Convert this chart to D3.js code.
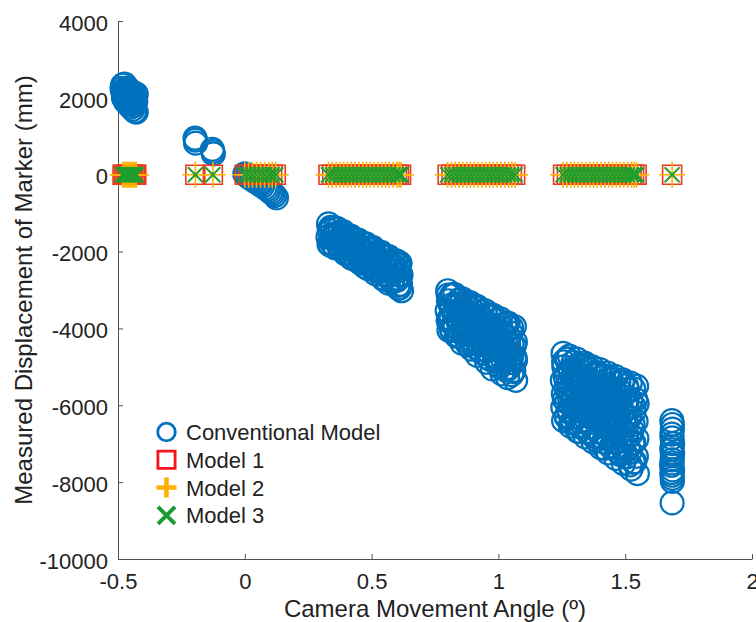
<!DOCTYPE html>
<html>
<head>
<meta charset="utf-8">
<script src="https://cdn.jsdelivr.net/npm/d3@7"></script>
<style>
  html, body { margin: 0; padding: 0; background: #fff; }
  svg { display: block; font-family: "Liberation Sans", Arial, Helvetica, sans-serif; }
</style>
</head>
<body>
<svg id="chart" width="756" height="622"></svg>
<script>
// Camera movement angle (deg) for every recorded frame
const angle = [
  // near -0.45 (40)
  -0.482, -0.478, -0.474, -0.470, -0.466, -0.462, -0.458, -0.454, -0.450, -0.446,
  -0.442, -0.438, -0.434, -0.430, -0.480, -0.468, -0.456, -0.444, -0.428, -0.428,
  -0.476, -0.472, -0.464, -0.460, -0.452, -0.448, -0.440, -0.436, -0.432, -0.484,
  -0.481, -0.477, -0.473, -0.469, -0.465, -0.461, -0.457, -0.449, -0.445, -0.437,
  // near -0.15 (6)
  -0.196, -0.194, -0.195, -0.128, -0.124, -0.126,
  // near 0.05 (17)
  0.000, 0.005, 0.012, 0.020, 0.028, 0.035, 0.045, 0.055, 0.062, 0.070,
  0.080, 0.088, 0.095, 0.103, 0.110, 0.118, 0.125,
  // near 0.47 (114)
  0.330, 0.333, 0.328, 0.332, 0.358, 0.362, 0.360, 0.356, 0.388, 0.392, 0.390, 0.394,
  0.418, 0.422, 0.425, 0.420, 0.448, 0.452, 0.450, 0.455, 0.478, 0.482, 0.480, 0.485,
  0.508, 0.512, 0.510, 0.514, 0.538, 0.542, 0.540, 0.544, 0.568, 0.572, 0.570, 0.566,
  0.598, 0.602, 0.600, 0.604, 0.612, 0.616, 0.614, 0.618,
  0.345, 0.347, 0.343, 0.375, 0.377, 0.373, 0.405, 0.407, 0.403, 0.435, 0.437, 0.433,
  0.465, 0.467, 0.463, 0.495, 0.497, 0.493, 0.525, 0.527, 0.523, 0.555, 0.557, 0.553,
  0.585, 0.587, 0.583, 0.607, 0.609, 0.605,
  0.338, 0.341, 0.350, 0.353, 0.366, 0.369, 0.381, 0.384, 0.397, 0.400,
  0.411, 0.414, 0.427, 0.430, 0.441, 0.444, 0.458, 0.461, 0.471, 0.474,
  0.488, 0.491, 0.501, 0.504, 0.517, 0.520, 0.531, 0.534, 0.547, 0.550,
  0.561, 0.564, 0.577, 0.580, 0.591, 0.594, 0.605, 0.610, 0.612, 0.336,
  // near 0.93 (146)
  0.800, 0.803, 0.798, 0.802, 0.805, 0.828, 0.832, 0.830, 0.826, 0.834,
  0.858, 0.862, 0.860, 0.864, 0.856, 0.888, 0.892, 0.890, 0.886, 0.894,
  0.918, 0.922, 0.920, 0.924, 0.916, 0.948, 0.952, 0.950, 0.946, 0.954,
  0.978, 0.982, 0.980, 0.984, 0.976, 1.008, 1.012, 1.010, 1.006, 1.014,
  1.038, 1.042, 1.040, 1.044, 1.036, 1.063, 1.067, 1.065, 1.061, 1.068,
  0.815, 0.817, 0.813, 0.816, 0.845, 0.847, 0.843, 0.846, 0.875, 0.877, 0.873, 0.876,
  0.905, 0.907, 0.903, 0.906, 0.935, 0.937, 0.933, 0.936, 0.965, 0.967, 0.963, 0.966,
  0.995, 0.997, 0.993, 0.996, 1.025, 1.027, 1.023, 1.026, 1.052, 1.054, 1.050, 1.053,
  0.802, 0.8065, 0.811, 0.8155, 0.820, 0.8245, 0.829, 0.8335, 0.838, 0.8425,
  0.847, 0.8515, 0.856, 0.8605, 0.865, 0.8695, 0.874, 0.8785, 0.883, 0.8875,
  0.892, 0.8965, 0.901, 0.9055, 0.910, 0.9145, 0.919, 0.9235, 0.928, 0.9325,
  0.937, 0.9415, 0.946, 0.9505, 0.955, 0.9595, 0.964, 0.9685, 0.973, 0.9775,
  0.982, 0.9865, 0.991, 0.9955, 1.000, 1.0045, 1.009, 1.0135, 1.018, 1.0225,
  1.027, 1.0315, 1.036, 1.0405, 1.045, 1.0495, 1.054, 1.0585, 1.063, 1.0675,
  // near 1.4 (196)
  1.255, 1.258, 1.252, 1.256, 1.254, 1.257,
  1.280, 1.283, 1.278, 1.281, 1.279, 1.284,
  1.310, 1.312, 1.308, 1.311, 1.309, 1.313,
  1.340, 1.342, 1.338, 1.341, 1.339, 1.343,
  1.370, 1.372, 1.368, 1.371, 1.369, 1.373,
  1.400, 1.402, 1.398, 1.401, 1.399, 1.403,
  1.430, 1.432, 1.428, 1.431, 1.429, 1.433,
  1.460, 1.462, 1.458, 1.461, 1.459, 1.463,
  1.490, 1.492, 1.488, 1.491, 1.489, 1.493,
  1.520, 1.522, 1.518, 1.521, 1.519, 1.523,
  1.545, 1.547, 1.543, 1.546, 1.544, 1.548,
  1.268, 1.270, 1.266, 1.269, 1.267,
  1.295, 1.297, 1.293, 1.296, 1.294,
  1.325, 1.327, 1.323, 1.326, 1.324,
  1.355, 1.357, 1.353, 1.356, 1.354,
  1.385, 1.387, 1.383, 1.386, 1.384,
  1.415, 1.417, 1.413, 1.416, 1.414,
  1.445, 1.447, 1.443, 1.446, 1.444,
  1.475, 1.477, 1.473, 1.476, 1.474,
  1.505, 1.507, 1.503, 1.506, 1.504,
  1.533, 1.535, 1.531, 1.534, 1.532,
  1.2570, 1.2606, 1.2642, 1.2678, 1.2714, 1.2750, 1.2786, 1.2822, 1.2858, 1.2894,
  1.2930, 1.2966, 1.3002, 1.3038, 1.3074, 1.3110, 1.3146, 1.3182, 1.3218, 1.3254,
  1.3290, 1.3326, 1.3362, 1.3398, 1.3434, 1.3470, 1.3506, 1.3542, 1.3578, 1.3614,
  1.3650, 1.3686, 1.3722, 1.3758, 1.3794, 1.3830, 1.3866, 1.3902, 1.3938, 1.3974,
  1.4010, 1.4046, 1.4082, 1.4118, 1.4154, 1.4190, 1.4226, 1.4262, 1.4298, 1.4334,
  1.4370, 1.4406, 1.4442, 1.4478, 1.4514, 1.4550, 1.4586, 1.4622, 1.4658, 1.4694,
  1.4730, 1.4766, 1.4802, 1.4838, 1.4874, 1.4910, 1.4946, 1.4982, 1.5018, 1.5054,
  1.5090, 1.5126, 1.5162, 1.5198, 1.5234, 1.5270, 1.5306, 1.5342, 1.5378, 1.5414,
  // near 1.68 (19)
  1.684, 1.686, 1.685, 1.687, 1.684, 1.686, 1.685, 1.683, 1.687, 1.685, 1.686, 1.685,
  1.686, 1.684, 1.685, 1.687, 1.685, 1.684, 1.686
];

// Measured marker displacement (mm), conventional model, one per frame
const conventional = [
  2330, 2010, 2360, 1900, 2250, 1980, 1820, 2200, 1760, 2050,
  1700, 2130, 1650, 1900, 2150, 2080, 1950, 1850, 2100, 1630,
  2200, 2100, 2120, 2240, 1900, 2150, 1950, 1800, 2000, 2250,
  2180, 1990, 2200, 2040, 1880, 2200, 2020, 1890, 2060, 1900,
  950, 820, 900, 660, 540, 600,
  20, -10, -40, -90, -110, -150, -190, -230, -260, -300,
  -340, -380, -420, -460, -500, -540, -600,
  -1280, -1450, -1620, -1800, -1380, -1560, -1720, -1900, -1480, -1660, -1850, -2040,
  -1600, -1780, -1980, -2170, -1700, -1900, -2100, -2300, -1800, -2020, -2250, -2440,
  -1920, -2150, -2380, -2570, -2020, -2270, -2500, -2690, -2130, -2380, -2620, -2820,
  -2240, -2500, -2750, -2950, -2300, -2600, -2850, -3020,
  -1400, -1600, -1780, -1500, -1700, -1900, -1600, -1820, -2020, -1700, -1920, -2150,
  -1800, -2030, -2270, -1920, -2150, -2380, -2020, -2270, -2500, -2130, -2380, -2620,
  -2250, -2500, -2750, -2350, -2620, -2880,
  -1370, -1650, -1830, -1540, -1410, -1830, -1730, -1580, -2060, -1860,
  -1730, -2050, -1660, -1950, -2230, -1840, -2140, -1770, -2030, -2400,
  -1940, -2310, -2180, -1890, -2500, -2170, -2400, -2070, -2720, -2320,
  -2580, -2240, -2510, -2800, -2400, -2250, -2700, -2950, -2590, -1830,
  -3020, -3280, -3540, -3800, -4050, -3120, -3400, -3680, -3950, -4200,
  -3230, -3520, -3810, -4100, -4380, -3330, -3640, -3950, -4260, -4540,
  -3440, -3760, -4090, -4410, -4700, -3540, -3880, -4220, -4560, -4880,
  -3650, -4000, -4360, -4710, -5050, -3750, -4120, -4490, -4860, -5180,
  -3860, -4240, -4630, -5010, -5280, -3950, -4350, -4750, -5100, -5350,
  -3150, -3450, -3750, -4050, -3250, -3560, -3870, -4200, -3350, -3680, -4000, -4330,
  -3450, -3800, -4140, -4480, -3560, -3920, -4280, -4640, -3670, -4050, -4420, -4800,
  -3780, -4170, -4560, -4950, -3890, -4300, -4700, -5080, -3980, -4400, -4800, -5200,
  -3130, -3730, -3400, -4010, -3120, -3640, -3950, -3370, -4180, -3600,
  -3830, -3370, -4130, -3550, -4050, -3340, -3790, -4420, -3610, -4060,
  -3490, -4370, -3810, -4030, -3410, -4320, -3790, -4560, -4050, -3700,
  -4340, -3940, -4530, -3650, -4280, -3880, -4780, -4160, -4520, -3700,
  -4330, -4770, -3950, -4520, -4140, -5010, -3930, -4400, -4830, -4160,
  -4700, -3870, -5070, -4400, -4890, -4120, -4690, -5120, -4450, -4820,
  -4650, -5000, -5350, -5700, -6050, -6400,
  -4720, -5080, -5450, -5810, -6180, -6540,
  -4800, -5180, -5560, -5930, -6310, -6680,
  -4900, -5280, -5670, -6050, -6440, -6820,
  -5000, -5390, -5780, -6170, -6560, -6950,
  -5070, -5480, -5890, -6290, -6700, -7100,
  -5160, -5580, -6000, -6410, -6830, -7240,
  -5250, -5680, -6100, -6530, -6960, -7380,
  -5340, -5780, -6220, -6650, -7090, -7520,
  -5420, -5870, -6320, -6770, -7210, -7660,
  -5500, -5960, -6420, -6870, -7330, -7780,
  -4800, -5180, -5550, -5920, -6300,
  -4880, -5270, -5650, -6040, -6430,
  -4960, -5360, -5760, -6160, -6560,
  -5050, -5450, -5860, -6270, -6680,
  -5140, -5560, -5970, -6390, -6820,
  -5230, -5650, -6080, -6500, -6950,
  -5320, -5750, -6190, -6620, -7080,
  -5400, -5850, -6290, -6740, -7220,
  -5490, -5940, -6400, -6860, -7350,
  -5570, -6030, -6500, -6970, -7480,
  -4870, -5850, -5280, -6270, -4790, -5620, -6120, -5140, -6460, -5490,
  -5850, -5080, -6300, -5350, -6130, -4960, -5680, -6680, -5350, -6060,
  -5130, -6520, -5610, -5950, -4950, -6380, -5530, -6720, -5900, -5330,
  -6320, -5690, -6590, -5200, -6160, -5520, -6910, -5920, -6480, -5190,
  -6150, -6810, -5530, -6390, -5790, -7120, -5450, -6140, -6800, -5750,
  -6560, -5280, -7090, -6060, -6790, -5620, -6460, -7090, -6060, -6610,
  -5570, -6550, -7280, -6080, -6900, -5390, -6380, -7210, -5950, -6730,
  -5590, -7120, -6310, -7550, -5930, -6640, -6990, -6170, -7470, -5850,
  -6400, -6620, -6850, -7000, -7150, -7300, -7420, -7560, -7680, -7820, -7980, -8540,
  -6500, -6750, -7080, -7250, -7500, -7750, -7900
];

// Frames at which the compensated models were evaluated (deg)
const modelAngle = [
  -0.482, -0.476, -0.470, -0.464, -0.458, -0.452, -0.446, -0.440, -0.434, -0.428,
  -0.195, -0.126,
  0.000, 0.015, 0.030, 0.046, 0.062, 0.078, 0.095, 0.108, 0.122,
  0.330, 0.345, 0.360, 0.375, 0.390, 0.405, 0.420, 0.435, 0.450, 0.465, 0.480,
  0.495, 0.510, 0.525, 0.540, 0.555, 0.570, 0.585, 0.600, 0.608, 0.616,
  0.800, 0.815, 0.830, 0.845, 0.860, 0.875, 0.890, 0.905, 0.920, 0.935,
  0.950, 0.965, 0.980, 0.995, 1.010, 1.025, 1.040, 1.053, 1.066,
  1.255, 1.270, 1.285, 1.300, 1.315, 1.330, 1.345, 1.360, 1.375, 1.390, 1.405,
  1.420, 1.435, 1.450, 1.465, 1.480, 1.495, 1.510, 1.525, 1.535, 1.545,
  1.685
];
// Residual displacement (mm) of each compensated model at those frames
const model1 = [
  0, 0, 0, 0, 0, 0, 0, 0, 0, 0,
  0, 0,
  0, 0, 0, 0, 0, 0, 0, 0, 0,
  0, 0, 0, 0, 0, 0, 0, 0, 0, 0, 0,
  0, 0, 0, 0, 0, 0, 0, 0, 0, 0,
  0, 0, 0, 0, 0, 0, 0, 0, 0, 0,
  0, 0, 0, 0, 0, 0, 0, 0, 0,
  0, 0, 0, 0, 0, 0, 0, 0, 0, 0, 0,
  0, 0, 0, 0, 0, 0, 0, 0, 0, 0,
  0
];
const model2 = [
  0, 0, 0, 0, 0, 0, 0, 0, 0, 0,
  0, 0,
  0, 0, 0, 0, 0, 0, 0, 0, 0,
  0, 0, 0, 0, 0, 0, 0, 0, 0, 0, 0,
  0, 0, 0, 0, 0, 0, 0, 0, 0, 0,
  0, 0, 0, 0, 0, 0, 0, 0, 0, 0,
  0, 0, 0, 0, 0, 0, 0, 0, 0,
  0, 0, 0, 0, 0, 0, 0, 0, 0, 0, 0,
  0, 0, 0, 0, 0, 0, 0, 0, 0, 0,
  0
];
const model3 = [
  0, 0, 0, 0, 0, 0, 0, 0, 0, 0,
  0, 0,
  0, 0, 0, 0, 0, 0, 0, 0, 0,
  0, 0, 0, 0, 0, 0, 0, 0, 0, 0, 0,
  0, 0, 0, 0, 0, 0, 0, 0, 0, 0,
  0, 0, 0, 0, 0, 0, 0, 0, 0, 0,
  0, 0, 0, 0, 0, 0, 0, 0, 0,
  0, 0, 0, 0, 0, 0, 0, 0, 0, 0, 0,
  0, 0, 0, 0, 0, 0, 0, 0, 0, 0,
  0
];

const seriesNames = ["Conventional Model", "Model 1", "Model 2", "Model 3"];
const xTicks = [-0.5, 0, 0.5, 1, 1.5, 2];
const yTicks = [4000, 2000, 0, -2000, -4000, -6000, -8000, -10000];

const colors = {
  circle: "#0072BD",
  square: "#EC3A1C",
  plus: "#FFB000",
  cross: "#1F9E2E",
  axis: "#505050",
  text: "#222222"
};

const svg = d3.select("#chart");
const margin = { left: 118, right: 4, top: 21, bottom: 63 };
const W = 756, H = 622;

const x = d3.scaleLinear().domain([-0.5, 2]).range([margin.left, W - margin.right]);
const y = d3.scaleLinear().domain([-10000, 4000]).range([H - margin.bottom, margin.top]);

const tickFont = 22;
const titleFont = 24;
const legendFont = 22;

// axes (ticks point inward, no box)
const xAxis = d3.axisBottom(x).tickValues(xTicks).tickFormat(d => String(d))
  .tickSizeInner(-5).tickSizeOuter(0).tickPadding(14);
const yAxis = d3.axisLeft(y).tickValues(yTicks).tickFormat(d => String(d))
  .tickSizeInner(-5).tickSizeOuter(0).tickPadding(10);

const gx = svg.append("g").attr("transform", `translate(0,${y(-10000)})`).call(xAxis);
const gy = svg.append("g").attr("transform", `translate(${x(-0.5)},0)`).call(yAxis);
[gx, gy].forEach(g => {
  g.select(".domain").attr("stroke", colors.axis).attr("stroke-width", 1);
  g.selectAll(".tick line").attr("stroke", colors.axis).attr("stroke-width", 1);
  g.selectAll(".tick text").attr("fill", colors.text)
    .style("font-size", tickFont + "px").style("font-family", "'Liberation Sans', Arial, sans-serif");
});
gy.selectAll(".tick text").attr("dy", "0.42em");

// axis titles
svg.append("text")
  .attr("x", (x(-0.5) + x(2)) / 2).attr("y", 617)
  .attr("text-anchor", "middle").attr("fill", colors.text)
  .style("font-size", titleFont + "px")
  .text("Camera Movement Angle (º)");
svg.append("text")
  .attr("transform", `translate(32,${(y(4000) + y(-10000)) / 2}) rotate(-90)`)
  .attr("text-anchor", "middle").attr("fill", colors.text)
  .style("font-size", titleFont + "px")
  .text("Measured Displacement of Marker (mm)");

// marker shapes
const squarePath = s => `M${-s},${-s}H${s}V${s}H${-s}Z`;
const plusPath = s => `M${-s},0H${s}M0,${-s}V${s}`;
const crossPath = s => `M${-s},${-s}L${s},${s}M${-s},${s}L${s},${-s}`;

const plot = svg.append("g");

plot.append("g").selectAll("circle")
  .data(d3.zip(angle, conventional)).join("circle")
  .attr("cx", d => x(d[0])).attr("cy", d => y(d[1]))
  .attr("r", 11.5)
  .attr("fill", "none").attr("stroke", colors.circle).attr("stroke-width", 2.2);

plot.append("g").selectAll("path")
  .data(d3.zip(modelAngle, model1)).join("path")
  .attr("transform", d => `translate(${x(d[0])},${y(d[1])})`)
  .attr("d", squarePath(9.5))
  .attr("fill", "none").attr("stroke", colors.square).attr("stroke-width", 1.6);

plot.append("g").selectAll("path")
  .data(d3.zip(modelAngle, model2)).join("path")
  .attr("transform", d => `translate(${x(d[0])},${y(d[1])})`)
  .attr("d", plusPath(13))
  .attr("fill", "none").attr("stroke", colors.plus).attr("stroke-width", 1.6);

plot.append("g").selectAll("path")
  .data(d3.zip(modelAngle, model3)).join("path")
  .attr("transform", d => `translate(${x(d[0])},${y(d[1])})`)
  .attr("d", crossPath(7.5))
  .attr("fill", "none").attr("stroke", colors.cross).attr("stroke-width", 1.9);

// legend
const legend = svg.append("g").attr("transform", "translate(166.5,432)");
const rowGap = 27.8;
const legendColors = ["#0072BD", "#F5141A", "#FFB000", "#1A9A30"];
seriesNames.forEach((name, i) => {
  const row = legend.append("g").attr("transform", `translate(0,${i * rowGap})`);
  if (i === 0) {
    row.append("circle").attr("r", 8.8).attr("fill", "none")
      .attr("stroke", legendColors[i]).attr("stroke-width", 2.8);
  } else if (i === 1) {
    row.append("path").attr("d", squarePath(8.6)).attr("fill", "none")
      .attr("stroke", legendColors[i]).attr("stroke-width", 2.8);
  } else if (i === 2) {
    row.append("path").attr("d", plusPath(10)).attr("fill", "none")
      .attr("stroke", legendColors[i]).attr("stroke-width", 4.5);
  } else {
    row.append("path").attr("d", crossPath(8.5)).attr("fill", "none")
      .attr("stroke", legendColors[i]).attr("stroke-width", 4);
  }
  row.append("text").attr("x", 19.5).attr("dy", "0.36em")
    .attr("fill", colors.text).style("font-size", legendFont + "px")
    .text(name);
});
</script>
</body>
</html>
